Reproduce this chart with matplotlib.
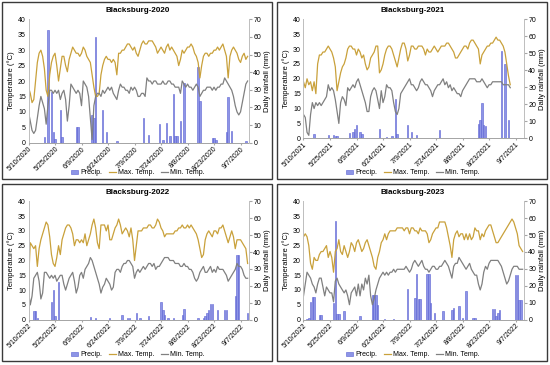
import numpy as np
import pandas as pd
import matplotlib.pyplot as plt
from matplotlib.patches import Rectangle, Patch
from matplotlib.lines import Line2D

plt.rcParams['font.family'] = ['Liberation Sans', 'DejaVu Sans']

# daily values, day 0 = May 10
max_2020 = [18, 16, 13, 14, 20, 26, 29, 30, 28, 24,
            17, 15, 22, 26, 28, 29, 25, 20, 24, 28,
            28, 25, 23, 27, 29, 31, 30, 29, 29, 28,
            29, 31, 30, 28, 27, 26, 22, 18, 15, 15,
            16, 22, 25, 27, 28, 27, 27, 26, 27, 26,
            22, 29, 29, 30, 30, 31, 32, 32, 31, 30,
            31, 29, 28, 30, 32, 33, 32, 32, 33, 33,
            33, 32, 31, 29, 30, 31, 30, 29, 31, 32,
            30, 31, 30, 29, 28, 25, 27, 30, 29, 30,
            31, 31, 32, 31, 29, 28, 26, 21, 25, 28,
            29, 29, 28, 29, 29, 30, 30, 31, 30, 31,
            32, 30, 28, 21, 28, 30, 31, 30, 29, 27,
            26, 28, 29, 27, 28]
min_2020 = [10, 7, 4, 3, 4, 8, 12, 15, 13, 11,
            6, 12, 17, 17, 16, 17, 16, 17, 14, 16,
            17, 14, 7, 12, 19, 18, 17, 16, 17, 16,
            12, 20, 19, 18, 15, 8, 1, 12, 15, 16,
            16, 15, 17, 16, 17, 18, 17, 18, 16, 15,
            14, 17, 19, 18, 18, 17, 17, 16, 18, 17,
            18, 17, 15, 15, 16, 16, 15, 21, 20, 20,
            19, 20, 20, 19, 19, 19, 20, 19, 19, 20,
            20, 19, 19, 18, 18, 18, 16, 20, 19, 18,
            19, 18, 18, 17, 18, 19, 18, 15, 16, 17,
            17, 18, 18, 18, 17, 18, 17, 18, 18, 19,
            19, 21, 20, 19, 18, 17, 15, 12, 10, 9,
            10, 13, 16, 19, 20]
rain_days_2020 = [9, 11, 13, 14, 15, 18, 19, 27, 28, 36, 37, 38, 42, 44, 50, 65, 68, 74,
                  76, 78, 80, 82, 83, 84, 86, 88, 96, 97, 104, 105, 106, 112, 113, 115, 123]
rain_mm_2020 = [3, 64, 29, 6, 2, 18.5, 3, 9, 9, 15.5, 14, 60, 18.5, 6, 0.7, 14, 4.5, 10.5,
                1.5, 11, 4, 27.8, 4, 4, 12.5, 34, 43, 23.6, 2.8, 2.8, 1.5, 6, 26, 6.5, 1]

max_2021 = [19, 17, 20, 18, 19, 16, 19, 15, 25, 28,
            28, 29, 29, 30, 31, 30, 29, 27, 24, 16,
            19, 22, 24, 25, 27, 30, 31, 31, 30, 30,
            28, 30, 29, 27, 28, 25, 23, 24, 27, 28,
            29, 31, 31, 22, 23, 25, 28, 30, 31, 31,
            30, 28, 26, 24, 27, 30, 32, 32, 30, 26,
            28, 31, 31, 30, 30, 31, 31, 31, 30, 28,
            30, 29, 29, 30, 31, 30, 29, 30, 31, 31,
            31, 32, 32, 31, 30, 29, 27, 27, 28, 29,
            30, 31, 31, 30, 32, 33, 33, 32, 31, 30,
            25, 28, 29, 30, 31, 31, 32, 32, 33, 34,
            33, 33, 32, 31, 29, 25, 21, 18]
min_2021 = [8, 7, 2, 1, 8, 12, 10, 12, 11, 12,
            11, 12, 13, 14, 18, 16, 17, 16, 13, 9,
            5, 12, 14, 13, 11, 17, 16, 17, 18, 17,
            19, 20, 18, 16, 14, 12, 9, 9, 14, 16,
            17, 16, 13, 10, 16, 12, 14, 18, 17, 17,
            16, 12, 9, 8, 10, 15, 16, 17, 18, 19,
            20, 18, 18, 17, 16, 17, 19, 20, 19, 18,
            18, 17, 16, 14, 16, 17, 18, 18, 19, 20,
            18, 19, 17, 18, 16, 17, 16, 15, 15, 14,
            16, 17, 18, 19, 20, 20, 20, 20, 19, 19,
            19, 20, 19, 18, 17, 18, 18, 19, 19, 19,
            19, 19, 19, 18, 18, 18, 18, 17]
rain_days_2021 = [6, 14, 17, 18, 19, 26, 28, 29, 30, 32, 33, 43, 47, 50, 52, 53, 59, 61,
                  64, 77, 99, 100, 101, 102, 103, 112, 114, 116]
rain_mm_2021 = [2.5, 2, 2, 1.5, 1.5, 3, 3.5, 5.5, 8, 3.5, 2.5, 5.5, 0.8, 1.5, 23, 2.5, 8, 3.5,
                2.2, 5, 8.5, 11, 20.6, 8, 7.5, 51.5, 43.5, 10.8]

max_2022 = [12, 26, 25, 24, 25, 18, 24, 27, 29, 31,
            33, 32, 28, 22, 19, 18, 21, 25, 22, 27,
            29, 31, 32, 32, 31, 29, 25, 27, 27, 26,
            27, 26, 29, 25, 27, 29, 32, 34, 31, 26,
            24, 32, 32, 32, 30, 32, 27, 27, 29, 31,
            32, 34, 32, 29, 30, 31, 30, 28, 31, 27,
            20, 25, 30, 30, 30, 31, 31, 31, 32, 32,
            31, 31, 32, 34, 33, 31, 30, 28, 29, 29,
            29, 29, 29, 30, 30, 31, 31, 32, 31, 31,
            32, 31, 32, 31, 30, 29, 27, 24, 21, 22,
            27, 29, 30, 29, 28, 30, 30, 29, 31, 31,
            32, 30, 28, 26, 28, 30, 28, 24, 27, 27,
            27, 26, 25, 24, 19]
min_2022 = [10, 5, 8, 14, 15, 16, 13, 7, 9, 16,
            16, 15, 14, 15, 14, 15, 13, 14, 15, 15,
            12, 10, 12, 14, 15, 16, 13, 9, 11, 15,
            16, 14, 17, 18, 19, 21, 20, 18, 16, 14,
            12, 9, 11, 12, 14, 13, 12, 10, 11, 16,
            17, 17, 16, 18, 19, 19, 20, 20, 19, 18,
            14, 16, 17, 16, 17, 18, 17, 18, 19, 19,
            18, 19, 17, 18, 18, 19, 20, 21, 21, 21,
            20, 20, 20, 19, 19, 19, 18, 18, 19, 18,
            18, 17, 17, 16, 14, 13, 14, 16, 17, 18,
            16, 16, 17, 18, 16, 17, 16, 18, 17, 17,
            17, 16, 15, 13, 14, 15, 16, 17, 19, 18,
            18, 17, 15, 14, 14]
rain_days_2022 = [3, 4, 5, 13, 14, 15, 17, 35, 38, 46, 53, 56, 57, 61, 63, 68, 75, 76, 77,
                  79, 82, 87, 88, 96, 99, 100, 101, 102, 103, 104, 107, 111, 112, 117, 118,
                  119, 124]
rain_mm_2022 = [5.1, 5.1, 0.8, 10.4, 17.8, 2, 22.5, 1.6, 1.2, 0.8, 2.5, 1, 1, 3.9, 1, 2,
                10.4, 6, 3, 1, 0.8, 3, 6.5, 0.8, 1.2, 2, 4, 5.5, 9, 9, 5.7, 5.7, 5.7, 14.3,
                38.5, 38.5, 4.1]

max_2023 = [28, 29, 28, 25, 19, 17, 21, 20, 20, 22,
            23, 23, 24, 25, 21, 23, 21, 16, 23, 24,
            27, 23, 22, 25, 23, 21, 23, 26, 25, 23,
            26, 27, 25, 23, 24, 26, 27, 25, 23, 21,
            18, 17, 21, 23, 26, 27, 29, 27, 29, 30,
            30, 30, 30, 31, 31, 31, 31, 30, 31, 31,
            29, 31, 31, 30, 30, 29, 31, 30, 30, 30,
            29, 26, 27, 29, 30, 31, 31, 33, 33, 33,
            33, 31, 28, 25, 21, 27, 29, 30, 28, 29,
            29, 27, 29, 27, 29, 27, 28, 31, 30, 30,
            27, 29, 28, 30, 31, 32, 32, 30, 28, 26,
            26, 27, 28, 29, 30, 31, 32, 33, 34, 33,
            31, 29, 25, 24, 23]
min_2023 = [8, 12, 16, 15, 14, 12, 11, 9, 12, 14,
            14, 11, 8, 11, 10, 9, 9, 6, 13, 14,
            12, 11, 10, 9, 10, 8, 5, 9, 10, 11,
            8, 12, 8, 12, 10, 14, 12, 15, 8, 5,
            7, 10, 12, 14, 15, 16, 15, 16, 15, 16,
            16, 17, 16, 17, 17, 17, 17, 17, 18, 17,
            16, 17, 19, 20, 19, 18, 19, 20, 18, 17,
            17, 16, 17, 18, 18, 17, 17, 18, 18, 19,
            20, 19, 18, 16, 14, 18, 19, 19, 21, 20,
            19, 18, 17, 18, 19, 17, 16, 15, 15, 12,
            10, 12, 16, 18, 17, 19, 20, 20, 20, 20,
            20, 19, 18, 16, 14, 12, 13, 15, 17, 18,
            18, 18, 17, 17, 17]
rain_days_2023 = [2, 3, 4, 5, 6, 9, 10, 17, 18, 19, 20, 23, 32, 39, 40, 41, 42, 46, 51, 59,
                  63, 64, 65, 66, 70, 71, 72, 74, 79, 84, 85, 88, 90, 92, 96, 97, 107, 108,
                  109, 110, 111, 120, 121, 122, 123]
rain_mm_2023 = [0.5, 0.8, 10.5, 13.3, 13.3, 2.4, 2.4, 9.8, 58.4, 3, 3, 5, 2, 14.7, 14.7,
                14.7, 8.8, 0.5, 0.5, 17.8, 13, 27, 12, 12, 27, 27, 9.8, 3.9, 4.8, 5.9, 6.8,
                7.8, 0.8, 16.8, 0.8, 0.8, 6.5, 6.5, 2, 3.9, 5.9, 26.2, 26.2, 11.5, 11.5]

titles = ['Blacksburg-2020', 'Blacksburg-2021', 'Blacksburg-2022', 'Blacksburg-2023']
tick_starts = ['2020-05-10', '2021-05-10', '2022-05-10', '2022-05-10']

W, H = 550, 365
fig = plt.figure(figsize=(5.5, 3.65), dpi=100)


def rect(x, y, w, h):
    return [x / W, 1 - (y + h) / H, w / W, h / H]


panels = [
    (0, 0, 142.7, max_2020, min_2020, rain_days_2020, rain_mm_2020),
    (275, 0, 138.3, max_2021, min_2021, rain_days_2021, rain_mm_2021),
    (0, 182, 137.7, max_2022, min_2022, rain_days_2022, rain_mm_2022),
    (275, 182, 137.5, max_2023, min_2023, rain_days_2023, rain_mm_2023),
]

gold = '#C9A13B'
grey = '#808080'
barc = '#8D95E6'
bare = '#5A5FD2'

for k, (ox, oy, bot, tmax, tmin, rd, rmm) in enumerate(panels):
    fig.add_artist(Rectangle(((ox + 2) / W, 1 - (oy + 179) / H), 270 / W, 177 / H,
                             transform=fig.transFigure, fill=False,
                             edgecolor='#3a3a3a', lw=1.0))
    ax = fig.add_axes(rect(ox + 28.5, oy + 19.3, 220, bot - 19.3))
    ax2 = ax.twinx()
    ax2.bar(rd, rmm, width=0.8, color=barc, edgecolor=bare, linewidth=0.4)
    days = np.arange(len(tmax))
    ax.plot(days, tmax, color=gold, lw=0.9)
    ax.plot(days, tmin, color=grey, lw=0.9)
    ax.set_zorder(ax2.get_zorder() + 1)
    ax.patch.set_visible(False)

    ax.set_xlim(0, 124.5)
    ax.set_ylim(0, 40)
    ax2.set_ylim(0, 70)
    ax.set_yticks(range(0, 41, 5))
    ax2.set_yticks(range(0, 71, 10))
    ticks = list(range(0, 121, 15))
    dates = pd.date_range(tick_starts[k], periods=len(ticks), freq='15D')
    ax.set_xticks(ticks)
    ax.set_xticklabels([f'{d.month}/{d.day}/{d.year}' for d in dates],
                       rotation=45, ha='right', va='top', rotation_mode='anchor',
                       fontsize=5)
    ax.tick_params(axis='x', length=1.5, color='#A6A6A6', pad=0.5)
    ax.tick_params(axis='y', length=0, labelsize=5, pad=2)
    ax2.tick_params(axis='y', length=2, color='#A6A6A6', labelsize=5, pad=1.5)
    for a in (ax, ax2):
        a.spines['top'].set_visible(False)
        a.spines['left'].set_color('#BFBFBF')
        a.spines['right'].set_color('#BFBFBF')
        a.spines['bottom'].set_color('#A6A6A6')
        for s in a.spines.values():
            s.set_linewidth(0.7)
    ax.set_ylabel('Temperature (°C)', fontsize=5.5, labelpad=2)
    ax2.set_ylabel('Daily rainfall (mm)', fontsize=5.5, labelpad=2)

    fig.text((ox + 138) / W, 1 - (oy + 10.5) / H, titles[k], ha='center', va='center',
             fontsize=5.8, fontweight='bold')
    handles = [Patch(facecolor=barc, edgecolor=bare, linewidth=0.4),
               Line2D([], [], color=gold, lw=0.9),
               Line2D([], [], color=grey, lw=0.9)]
    fig.legend(handles, ['Precip.', 'Max. Temp.', 'Min. Temp.'], loc='center',
               bbox_to_anchor=((ox + 138) / W, 1 - (oy + 173) / H), ncol=3,
               frameon=False, fontsize=5, handlelength=1.0, handleheight=0.6,
               columnspacing=1.0, handletextpad=0.3, borderpad=0)

fig.savefig('out.png', dpi=100)
plt.close()
